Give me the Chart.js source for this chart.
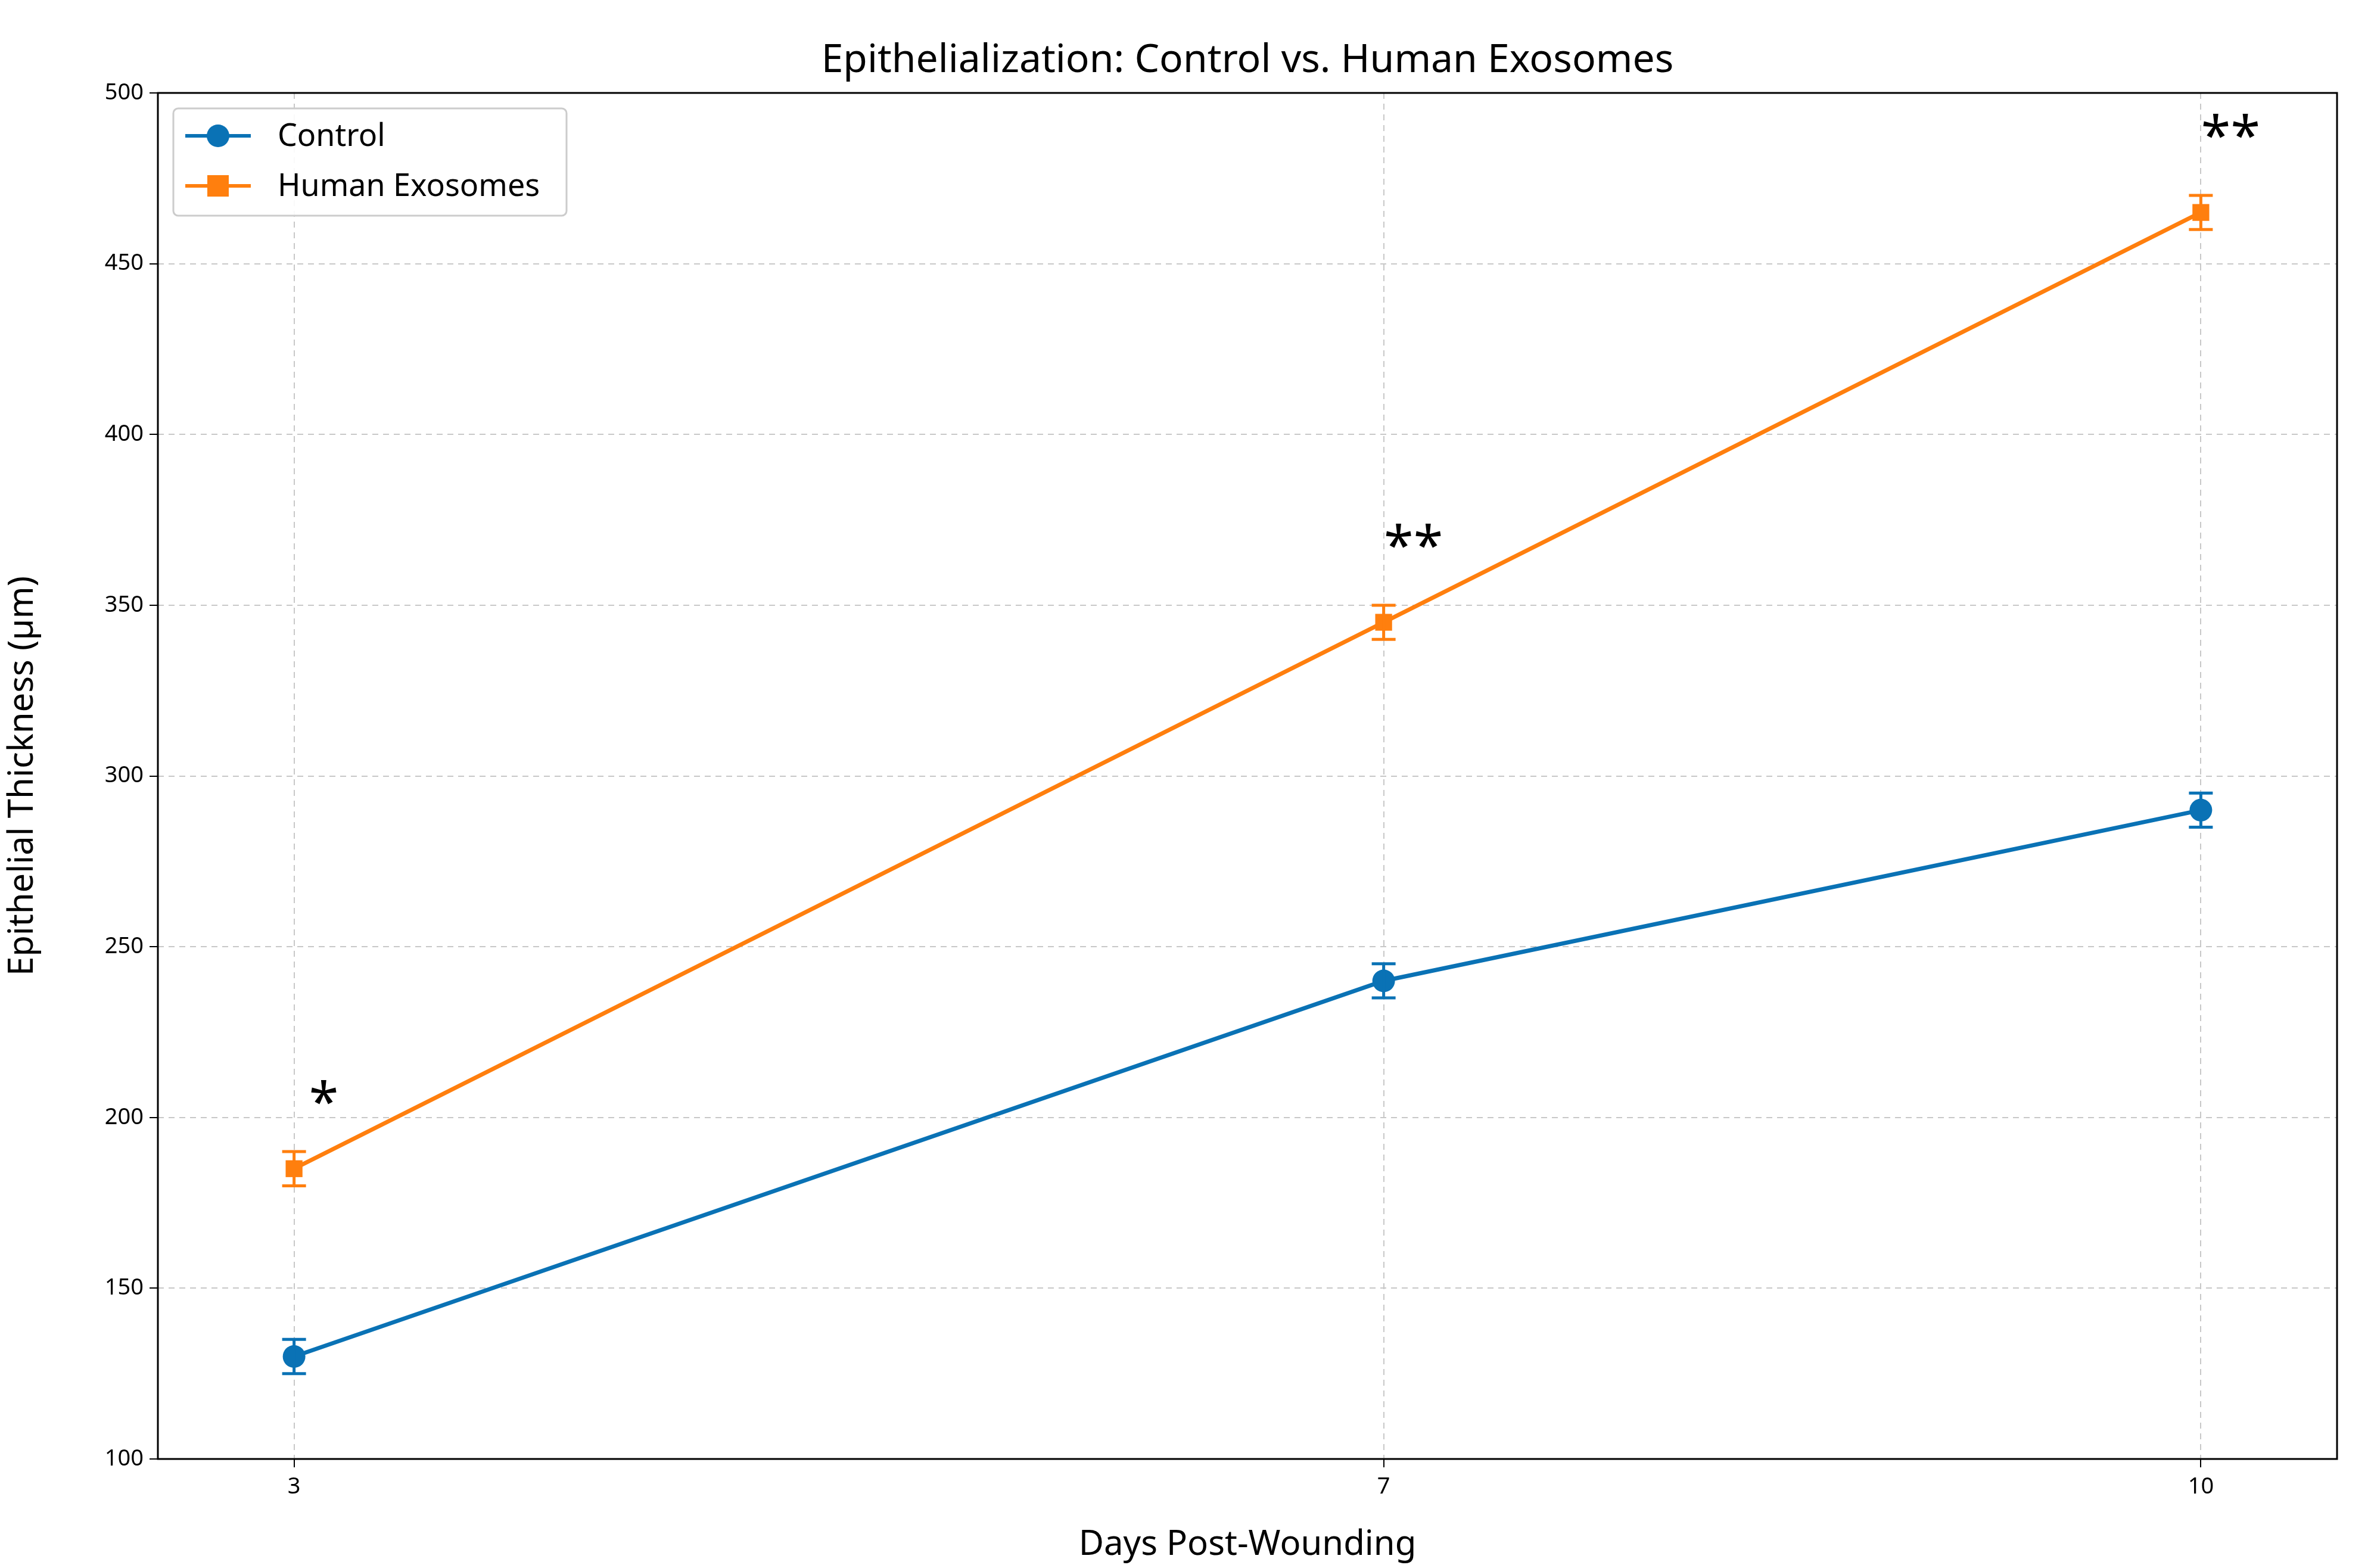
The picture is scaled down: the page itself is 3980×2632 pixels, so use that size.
<!DOCTYPE html>
<html>
<head>
<meta charset="utf-8">
<script src="https://cdn.jsdelivr.net/npm/chart.js@4.4.1/dist/chart.umd.min.js"></script>
<style>
  body { margin: 0; background: #fff; }
  #wrap { width: 3980px; height: 2632px; }
</style>
</head>
<body>
<div id="wrap"><canvas id="chart" width="3980" height="2632"></canvas></div>
<script>
// data
const days = [3, 7, 10]
const controlValues = [130, 240, 290]
const controlErrors = [5, 5, 5]
const exosomeValues = [185, 345, 465]
const exosomeErrors = [5, 5, 5]
const starLabels = ['*', '**', '**']
const starValues = [207, 370, 490]
const yTicks = [100, 150, 200, 250, 300, 350, 400, 450, 500]

const BLUE = '#0a72b5'
const ORANGE = '#ff7f0e'
const FONT = '"Noto Sans", "Open Sans", sans-serif'

// error bars, stars, frame, title and legend
const extras = {
    id: 'extras',
    afterDatasetsDraw(chart) {
        const c = chart.ctx
        const x = chart.scales.x
        const y = chart.scales.y
        const area = chart.chartArea

        // error bars
        const sets = [[controlValues, controlErrors, BLUE], [exosomeValues, exosomeErrors, ORANGE]]
        for (const [vals, errs, col] of sets) {
            c.save()
            c.strokeStyle = col
            c.lineWidth = 5
            vals.forEach((v, i) => {
                const px = x.getPixelForValue(days[i])
                const top = y.getPixelForValue(v + errs[i])
                const bot = y.getPixelForValue(v - errs[i])
                c.beginPath()
                c.moveTo(px, top); c.lineTo(px, bot)
                c.moveTo(px - 20, top); c.lineTo(px + 20, top)
                c.moveTo(px - 20, bot); c.lineTo(px + 20, bot)
                c.stroke()
            })
            c.restore()
        }

        // significance stars
        c.save()
        c.fillStyle = '#000'
        c.font = '90px ' + FONT
        c.textAlign = 'center'
        c.textBaseline = 'middle'
        starLabels.forEach((s, i) => {
            c.fillText(s, x.getPixelForValue(days[i]) + 50, y.getPixelForValue(starValues[i]) + 20)
        })
        c.restore()

        // frame
        c.save()
        c.strokeStyle = '#000'
        c.lineWidth = 3
        c.strokeRect(area.left, area.top, area.right - area.left, area.bottom - area.top)
        c.restore()

        // title
        c.save()
        c.fillStyle = '#000'
        c.font = '66px ' + FONT
        c.textAlign = 'center'
        c.textBaseline = 'middle'
        c.fillText('Epithelialization: Control vs. Human Exosomes', (area.left + area.right) / 2, 102)
        c.restore()

        // legend
        c.save()
        const lx = area.left + 26, ly = area.top + 26, lw = 660, lh = 180
        c.fillStyle = 'rgba(255,255,255,0.9)'
        c.strokeStyle = '#ccc'
        c.lineWidth = 3
        c.beginPath()
        c.roundRect(lx, ly, lw, lh, 8)
        c.fill(); c.stroke()
        const items = [['Control', BLUE, 'circle'], ['Human Exosomes', ORANGE, 'square']]
        items.forEach(([label, col, shape], i) => {
            const cy = ly + 46 + i * 84
            c.strokeStyle = col
            c.fillStyle = col
            c.lineWidth = 6
            c.beginPath(); c.moveTo(lx + 20, cy); c.lineTo(lx + 130, cy); c.stroke()
            if (shape === 'circle') {
                c.beginPath(); c.arc(lx + 75, cy, 19, 0, Math.PI * 2); c.fill()
            } else {
                c.fillRect(lx + 57, cy - 18, 36, 36)
            }
            c.fillStyle = '#000'
            c.font = '52px ' + FONT
            c.textBaseline = 'middle'
            c.fillText(label, lx + 175, cy + 2)
        })
        c.restore()
    }
}

const ctx = document.getElementById('chart').getContext('2d')
new Chart(ctx, {
    type: 'line',
    data: {
        datasets: [{
            label: 'Control',
            data: days.map((d, i) => ({ x: d, y: controlValues[i] })),
            borderColor: BLUE,
            backgroundColor: BLUE,
            borderWidth: 7,
            pointStyle: 'circle',
            pointRadius: 19,
            pointBorderWidth: 0
        }, {
            label: 'Human Exosomes',
            data: days.map((d, i) => ({ x: d, y: exosomeValues[i] })),
            borderColor: ORANGE,
            backgroundColor: ORANGE,
            borderWidth: 7,
            pointStyle: 'rect',
            pointRadius: 20,
            pointBorderWidth: 0
        }]
    },
    options: {
        responsive: false,
        animation: false,
        layout: { padding: { top: 156, right: 57, left: 0, bottom: 0 } },
        plugins: { legend: { display: false }, title: { display: false }, tooltip: { enabled: false } },
        scales: {
            x: {
                type: 'linear',
                min: 2.5,
                max: 10.5,
                afterBuildTicks: (s) => { s.ticks = days.map(d => ({ value: d })) },
                afterFit: (s) => { s.height = 183 },
                grid: { color: '#c8c8c8', lineWidth: 2, tickLength: 14, tickColor: '#000', drawOnChartArea: true },
                border: { display: false, dash: [10, 8] },
                ticks: { color: '#000', font: { family: FONT, size: 38 }, padding: 10, maxRotation: 0 },
                title: { display: true, text: 'Days Post-Wounding', color: '#000', font: { family: FONT, size: 58 }, padding: { top: 18 } }
            },
            y: {
                min: 100,
                max: 500,
                afterBuildTicks: (s) => { s.ticks = yTicks.map(v => ({ value: v })) },
                afterFit: (s) => { s.width = 265 },
                grid: { color: '#c8c8c8', lineWidth: 2, tickLength: 14, tickColor: '#000' },
                border: { display: false, dash: [10, 8] },
                ticks: { color: '#000', font: { family: FONT, size: 38 }, padding: 10 },
                title: { display: true, text: 'Epithelial Thickness (µm)', color: '#000', font: { family: FONT, size: 58 }, padding: { bottom: 10 } }
            }
        }
    },
    plugins: [extras]
})
</script>
</body>
</html>
